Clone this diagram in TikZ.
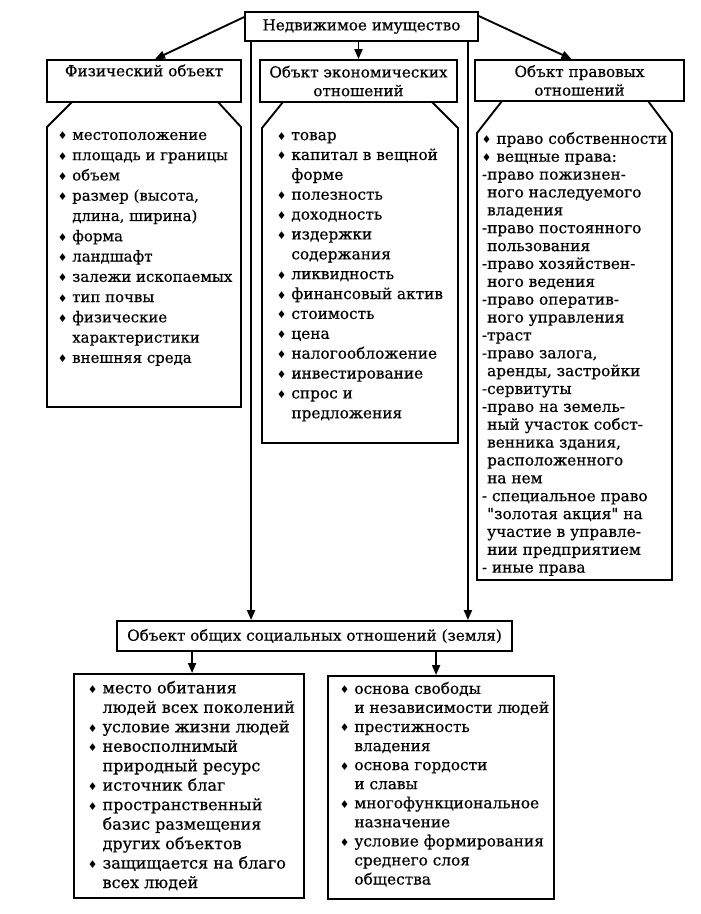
\documentclass[tikz,border=0pt]{standalone}
\usepackage{fontspec}
\setmainfont{DejaVu Serif}[FakeBold=0.5]
\newfontfamily\symfont{DejaVu Sans}
\newfontfamily\qfont{DejaVu Serif}[Ligatures=TeXOff,FakeBold=0.5]
\usetikzlibrary{positioning,calc,arrows.meta}
\newcommand{\bul}{{\symfont\footnotesize ♦}\ }
\newcommand{\ind}{\hphantom{\bul}}
\newcommand{\dind}{\hphantom{-}}
\newcommand{\qt}{{\qfont"}}

\begin{document}
\begin{tikzpicture}[x=0.75pt,y=-0.75pt,line width=1.4pt,
  title/.style={draw,align=center,inner sep=2pt,font=\fontsize{11.4}{14}\selectfont},
  list/.style={align=left,anchor=north west,inner sep=0pt},
  arr/.style={-{Triangle[length=7.5pt,width=6pt]}}]
  \useasboundingbox (0,0) rectangle (700,914);

  % Top of the scheme
  \node[title,minimum width=174.75pt,minimum height=21.75pt] (root) at (361.5,26.5) {Недвижимое имущество};
  \node[title,minimum width=145.5pt,minimum height=31.5pt] (phys) at (144,81) {Физический объект\\[2pt]};
  \node[title,minimum width=147.75pt,minimum height=31.5pt] (econ) at (358.5,81) {Объкт экономических\\отношений};
  \node[title,minimum width=156.75pt,minimum height=30.75pt] (legal) at (579.5,80.5) {Объкт правовых\\отношений};

  % Lists under the three objects
  \draw (72,102) -- (47,127) -- (47,407) -- (241,407) -- (241,127) -- (218,102);
  \draw (283,102) -- (262,128) -- (262,443) -- (458,443) -- (458,128) -- (432,102);
  \draw (502,101) -- (477,133) -- (477,580) -- (672,580) -- (672,133) -- (648,101);

  \node[list,font=\fontsize{11.2}{15.2}\selectfont] (physL) at (57,131) {%
    \bul местоположение\\
    \bul площадь и границы\\
    \bul объем\\
    \bul размер (высота,\\
    \ind длина, ширина)\\
    \bul форма\\
    \bul ландшафт\\
    \bul залежи ископаемых\\
    \bul тип почвы\\
    \bul физические\\
    \ind характеристики\\
    \bul внешняя среда};
  \node[list,font=\fontsize{11.5}{14.9}\selectfont] (econL) at (276,131) {%
    \bul товар\\
    \bul капитал в вещной\\
    \ind форме\\
    \bul полезность\\
    \bul доходность\\
    \bul издержки\\
    \ind содержания\\
    \bul ликвидность\\
    \bul финансовый актив\\
    \bul стоимость\\
    \bul цена\\
    \bul налогообложение\\
    \bul инвестирование\\
    \bul спрос и\\
    \ind предложения};
  \node[list,font=\fontsize{11.5}{13.4}\selectfont] (legalL) at (481,131) {%
    \bul право собственности\\
    \bul вещные права:\\
    -право пожизнен-\\
    \dind ного наследуемого\\
    \dind владения\\
    -право постоянного\\
    \dind пользования\\
    -право хозяйствен-\\
    \dind ного ведения\\
    -право оператив-\\
    \dind ного управления\\
    -траст\\
    -право залога,\\
    \dind аренды, застройки\\
    -сервитуты\\
    -право на земель-\\
    \dind ный участок собст-\\
    \dind венника здания,\\
    \dind расположенного\\
    \dind на нем\\
    - специальное право\\
    \dind \qt золотая акция\qt{} на\\
    \dind участие в управле-\\
    \dind нии предприятием\\
    - иные права};

  % Common social relations
  \node[title,minimum width=296.25pt,minimum height=22.5pt] (soc) at (314.5,636) {Объект общих социальных отношений (земля)};
  \node[draw,minimum width=172.5pt,minimum height=168pt,anchor=north west] (socA) at (73,673) {};
  \node[draw,minimum width=169.5pt,minimum height=167.25pt,anchor=north west] (socB) at (327,675) {};
  \node[list,font=\fontsize{12}{14.6}\selectfont] (socAL) at (87,680) {%
    \bul место обитания\\
    \ind людей всех поколений\\
    \bul условие жизни людей\\
    \bul невосполнимый\\
    \ind природный ресурс\\
    \bul источник благ\\
    \bul пространственный\\
    \ind базис размещения\\
    \ind других объектов\\
    \bul защищается на благо\\
    \ind всех людей};
  \node[list,font=\fontsize{11.5}{14.3}\selectfont] (socBL) at (339,681) {%
    \bul основа свободы\\
    \ind и независимости людей\\
    \bul престижность\\
    \ind владения\\
    \bul основа гордости\\
    \ind и славы\\
    \bul многофункциональное\\
    \ind назначение\\
    \bul условие формирования\\
    \ind среднего слоя\\
    \ind общества};

  % Arrows
  \coordinate (downL) at ($(root.south west)+(7,0)$);
  \coordinate (downR) at ($(root.south east)+(-11,0)$);
  \coordinate (socSplitA) at ($(soc.south west)+(76,0)$);
  \coordinate (socSplitB) at ($(soc.south west)+(320,0)$);
  \draw[arr] ($(root.north west)+(0,6)$) -- ($(phys.north)+(11,0)$);
  \draw[arr] (econ.north |- root.south) -- (econ.north);
  \draw[arr] ($(root.north east)+(0,5)$) -- ($(legal.north)+(-8,0)$);
  \draw[arr] (downL) -- (downL |- soc.north);
  \draw[arr] (downR) -- (downR |- soc.north);
  \draw[arr] (socSplitA) -- (socSplitA |- socA.north);
  \draw[arr] (socSplitB) -- (socSplitB |- socB.north);
\end{tikzpicture}
\end{document}
